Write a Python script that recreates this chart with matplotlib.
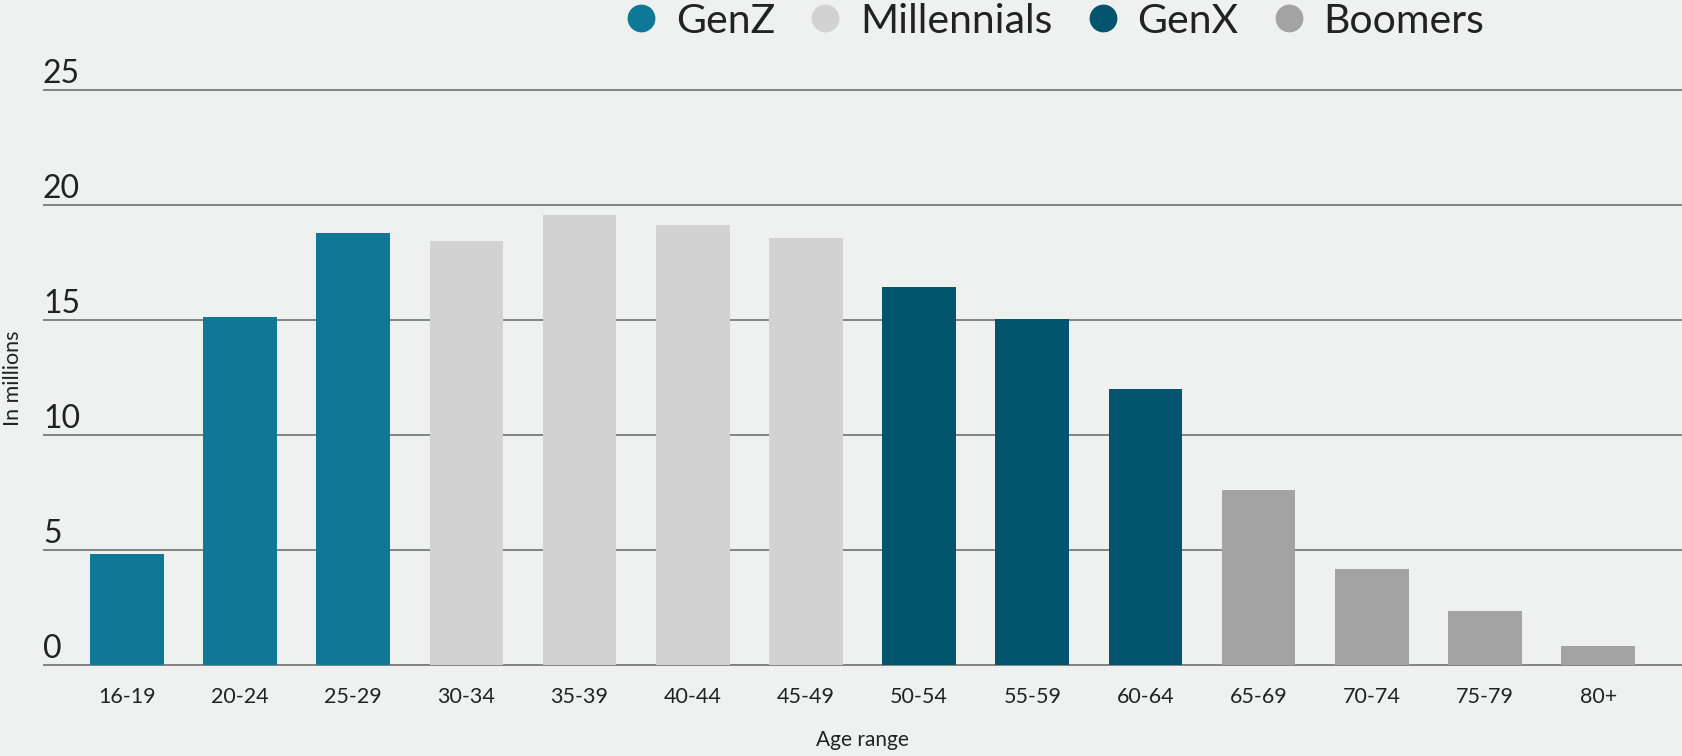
import matplotlib
matplotlib.use("Agg")
import matplotlib.pyplot as plt
from matplotlib.lines import Line2D

plt.rcParams["font.family"] = ["Lato", "DejaVu Sans"]

age_ranges = ["16-19", "20-24", "25-29", "30-34", "35-39", "40-44", "45-49",
              "50-54", "55-59", "60-64", "65-69", "70-74", "75-79", "80+"]
population = [4.85, 15.15, 18.8, 18.45, 19.55, 19.15, 18.55,
              16.45, 15.05, 12.0, 7.6, 4.2, 2.35, 0.85]
generation = ["GenZ"] * 3 + ["Millennials"] * 4 + ["GenX"] * 3 + ["Boomers"] * 4

gen_names = ["GenZ", "Millennials", "GenX", "Boomers"]
gen_colors = {"GenZ": "#0e7896", "Millennials": "#d3d2d3",
              "GenX": "#03546f", "Boomers": "#a3a3a3"}
y_ticks = [0, 5, 10, 15, 20, 25]

bg = "#eff0f0"
text_col = "#222222"
grid_col = "#7a7a7a"

fig = plt.figure(figsize=(16.82, 7.56), dpi=100, facecolor=bg)
ax = fig.add_axes([43 / 1682, 0.111, 1 - 43 / 1682, 0.785])
ax.set_facecolor(bg)

x = range(len(age_ranges))
ax.bar(x, population, width=0.65, color=[gen_colors[g] for g in generation], zorder=3)

ax.set_xlim(-0.74, len(age_ranges) - 0.26)
ax.set_ylim(-0.3, 25.5)

# horizontal rules with the value written just above at the left edge
for v in y_ticks:
    ax.axhline(v, color=grid_col, linewidth=1.3, zorder=1)
    ax.annotate(str(v), xy=(0, v), xycoords=ax.get_yaxis_transform(),
                xytext=(0, 1), textcoords="offset points",
                ha="left", va="bottom", fontsize=23, color=text_col)

ax.set_yticks([])
ax.set_xticks(list(x))
ax.set_xticklabels(age_ranges, fontsize=15.5, color=text_col)
ax.tick_params(axis="x", length=0, pad=11)
for s in ax.spines.values():
    s.set_visible(False)

ax.set_xlabel("Age range", fontsize=15, color=text_col, labelpad=16)
fig.text(13 / 1682, 0.5, "In millions", rotation=90, ha="center", va="center",
         fontsize=15.5, color=text_col)

handles = [Line2D([], [], marker="o", linestyle="none", markersize=19,
                  markerfacecolor=gen_colors[g], markeredgecolor=gen_colors[g])
           for g in gen_names]
fig.legend(handles, gen_names, loc="center", bbox_to_anchor=(0.627, 0.972),
           ncol=4, frameon=False, fontsize=29.5, handlelength=0.8,
           handletextpad=0.45, columnspacing=0.82, labelcolor=text_col)

fig.savefig("out.png", dpi=100, facecolor=bg)
